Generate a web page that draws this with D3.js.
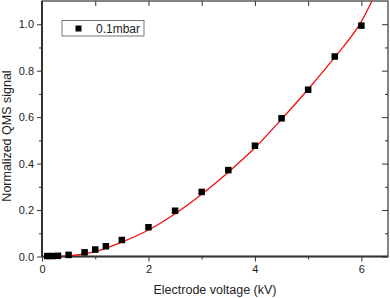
<!DOCTYPE html>
<meta charset="UTF-8">
<style>
body { margin: 0; background: #fff; }
svg { display: block; font-family: "Liberation Sans", Arial, sans-serif; }
.tick text { fill: #222; font-size: 11px; }
.axis path, .axis line { stroke: #333; }
</style>
<body>
<script src="https://d3js.org/d3.v7.min.js"></script>
<script>

// measured points (kV, normalized signal)
var voltage = [0.1, 0.2, 0.3, 0.5, 0.8, 1.0, 1.2, 1.5, 2.0, 2.5, 3.0, 3.5, 4.0, 4.5, 5.0, 5.5, 6.0];
var signal  = [0.002, 0.002, 0.003, 0.007, 0.018, 0.030, 0.044, 0.071, 0.126, 0.197, 0.278, 0.372, 0.477, 0.595, 0.718, 0.861, 0.994];

// fit curve
var fitV = [0.1, 0.3, 0.5, 1.0, 1.5, 2.0, 2.5, 3.0, 3.5, 4.0, 4.5, 5.0, 5.5, 6.0, 6.2];
var fitS = [0.0, 0.0, 0.003, 0.021, 0.062, 0.114, 0.184, 0.268, 0.363, 0.468, 0.591, 0.72, 0.858, 1.012, 1.1];

var xTicks = [0, 2, 4, 6], xMinor = [1, 3, 5];
var yTicks = [0.0, 0.2, 0.4, 0.6, 0.8, 1.0], yMinor = [0.1, 0.3, 0.5, 0.7, 0.9];

var W = 390, H = 298;
var margin = {top: 1, right: 2, bottom: 41.5, left: 42};

var svg = d3.select("body").append("svg")
    .attr("width", W).attr("height", H);

var x = d3.scaleLinear().domain([0, 6.5]).range([margin.left, W - margin.right]);
var y = d3.scaleLinear().domain([0, 1.1]).range([H - margin.bottom, margin.top]);

// clip for the curve
svg.append("clipPath").attr("id", "clip")
  .append("rect")
    .attr("x", x(0)).attr("y", y(1.1))
    .attr("width", x(6.5) - x(0)).attr("height", y(0) - y(1.1));

// bottom axis (outward ticks)
svg.append("g").attr("class", "axis")
    .attr("transform", "translate(0," + y(0) + ")")
    .call(d3.axisBottom(x).tickValues(xMinor).tickSize(3).tickFormat(""))
    .call(g => g.select(".domain").remove());
svg.append("g").attr("class", "axis")
    .attr("transform", "translate(0," + y(0) + ")")
    .call(d3.axisBottom(x).tickValues(xTicks).tickSize(5).tickPadding(4).tickFormat(d3.format("d")))
    .call(g => g.select(".domain").remove());

// left axis
svg.append("g").attr("class", "axis")
    .attr("transform", "translate(" + x(0) + ",0)")
    .call(d3.axisLeft(y).tickValues(yMinor).tickSize(3).tickFormat(""))
    .call(g => g.select(".domain").remove());
svg.append("g").attr("class", "axis")
    .attr("transform", "translate(" + x(0) + ",0)")
    .call(d3.axisLeft(y).tickValues(yTicks).tickSize(5).tickPadding(3).tickFormat(d3.format(".1f")))
    .call(g => g.select(".domain").remove());

// top axis (inward)
svg.append("g").attr("class", "axis")
    .attr("transform", "translate(0," + y(1.1) + ")")
    .call(d3.axisBottom(x).tickValues(xTicks.concat(xMinor)).tickSize(5).tickFormat(""))
    .call(g => g.select(".domain").remove());

// right axis (inward)
svg.append("g").attr("class", "axis")
    .attr("transform", "translate(" + x(6.5) + ",0)")
    .call(d3.axisLeft(y).tickValues(yMinor).tickSize(3).tickFormat(""))
    .call(g => g.select(".domain").remove());
svg.append("g").attr("class", "axis")
    .attr("transform", "translate(" + x(6.5) + ",0)")
    .call(d3.axisLeft(y).tickValues(yTicks).tickSize(6).tickFormat(""))
    .call(g => g.select(".domain").remove());

// frame
svg.append("rect")
    .attr("x", x(0)).attr("y", y(1.1))
    .attr("width", x(6.5) - x(0)).attr("height", y(0) - y(1.1))
    .attr("fill", "none").attr("stroke", "#333").attr("stroke-width", 1.2);
svg.append("line")
    .attr("x1", x(0)).attr("x2", x(6.5)).attr("y1", y(0)).attr("y2", y(0))
    .attr("stroke", "#333").attr("stroke-width", 2);
svg.append("line")
    .attr("x1", x(0)).attr("x2", x(0)).attr("y1", y(0)).attr("y2", y(1.1))
    .attr("stroke", "#333").attr("stroke-width", 2);

// fit line
var line = d3.line()
    .x(function(d, i) { return x(fitV[i]); })
    .y(function(d, i) { return y(fitS[i]); })
    .curve(d3.curveMonotoneX);
svg.append("path")
    .datum(fitS)
    .attr("clip-path", "url(#clip)")
    .attr("d", line)
    .attr("fill", "none")
    .attr("stroke", "#f01010")
    .attr("stroke-width", 1.3);

// markers
var ms = 6.5;
svg.selectAll("rect.pt")
    .data(signal)
  .enter().append("rect")
    .attr("class", "pt")
    .attr("x", function(d, i) { return x(voltage[i]) - ms / 2; })
    .attr("y", function(d) { return y(d) - ms / 2; })
    .attr("width", ms).attr("height", ms)
    .attr("fill", "#000");

// legend
var lg = svg.append("g");
lg.append("rect")
    .attr("x", 62).attr("y", 20.5).attr("width", 82).attr("height", 15.5)
    .attr("fill", "#fff").attr("stroke", "#555").attr("stroke-width", 0.8);
lg.append("rect")
    .attr("x", 75.5).attr("y", 25.5).attr("width", 6).attr("height", 6)
    .attr("fill", "#000");
lg.append("text")
    .attr("x", 96).attr("y", 32.5)
    .attr("font-size", 12).attr("fill", "#222")
    .text("0.1mbar");

// axis titles
svg.append("text")
    .attr("x", 215).attr("y", 294)
    .attr("text-anchor", "middle")
    .attr("font-size", 12.5).attr("fill", "#222")
    .text("Electrode voltage (kV)");
svg.append("text")
    .attr("transform", "translate(11,136) rotate(-90)")
    .attr("text-anchor", "middle")
    .attr("font-size", 12.5).attr("fill", "#222")
    .text("Normalized QMS signal");

</script>
</body>
